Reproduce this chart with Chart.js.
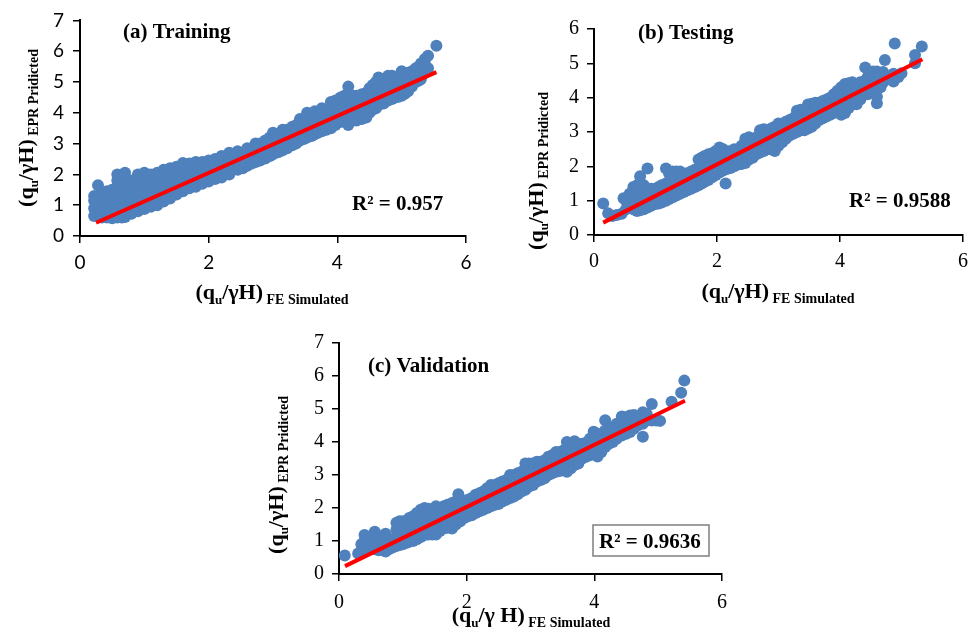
<!DOCTYPE html>
<html>
<head>
<meta charset="utf-8">
<script src="https://cdn.jsdelivr.net/npm/chart.js@4.4.1/dist/chart.umd.min.js"></script>
<style>
  html, body { margin: 0; padding: 0; background: #fff; }
  body { width: 978px; height: 632px; position: relative; overflow: hidden; }
  canvas { position: absolute; }
</style>
</head>
<body>
<canvas id="chartA" width="489" height="315" style="left:0;top:0"></canvas>
<canvas id="chartB" width="489" height="315" style="left:489px;top:0"></canvas>
<canvas id="chartC" width="520" height="317" style="left:230px;top:315px"></canvas>
<script>
// ---- data ([FE simulated, EPR predicted]) ----
const trainPts = [
  [0.22,0.65],[0.22,0.9],[0.22,1.15],[0.22,1.3],
  [0.28,0.75],[0.28,1.0],[0.28,1.25],[0.28,1.65],
  [0.34,0.6],[0.34,0.85],[0.34,1.1],[0.34,1.35],
  [0.42,0.6],[0.42,0.85],[0.42,1.1],[0.42,1.35],[0.42,1.45],
  [0.5,0.58],[0.5,0.85],[0.5,1.1],[0.5,1.35],[0.5,1.5],
  [0.58,0.6],[0.58,0.85],[0.58,1.1],[0.58,1.35],[0.58,1.6],[0.58,1.8],[0.58,2.0],
  [0.65,0.6],[0.65,0.85],[0.65,1.1],[0.65,1.35],[0.65,1.55],
  [0.7,0.62],[0.7,0.9],[0.7,1.15],[0.7,1.4],[0.7,1.7],[0.7,2.05],
  [0.8,0.72],[0.8,0.98],[0.8,1.25],[0.8,1.5],[0.8,1.8],
  [0.9,0.8],[0.9,1.05],[0.9,1.3],[0.9,1.55],[0.9,1.8],[0.9,2.0],
  [1.0,0.88],[1.0,1.15],[1.0,1.4],[1.0,1.65],[1.0,1.9],[1.0,2.05],
  [1.1,0.95],[1.1,1.2],[1.1,1.45],[1.1,1.7],[1.1,2.0],
  [1.2,1.0],[1.2,1.28],[1.2,1.55],[1.2,1.8],[1.2,2.05],
  [1.3,1.12],[1.3,1.38],[1.3,1.65],[1.3,1.9],[1.3,2.15],
  [1.4,1.22],[1.4,1.48],[1.4,1.75],[1.4,2.0],[1.4,2.2],
  [1.5,1.35],[1.5,1.6],[1.5,1.85],[1.5,2.05],[1.5,2.25],
  [1.6,1.45],[1.6,1.7],[1.6,1.95],[1.6,2.2],[1.6,2.37],
  [1.7,1.55],[1.7,1.8],[1.7,2.05],[1.7,2.35],
  [1.8,1.6],[1.8,1.85],[1.8,2.1],[1.8,2.4],
  [1.9,1.7],[1.9,1.95],[1.9,2.2],[1.9,2.4],
  [2.0,1.77],[2.0,2.0],[2.0,2.25],[2.0,2.45],
  [2.1,1.85],[2.1,2.1],[2.1,2.3],[2.1,2.5],
  [2.2,1.9],[2.2,2.15],[2.2,2.4],[2.2,2.6],
  [2.32,2.0],[2.32,2.25],[2.32,2.5],[2.32,2.7],
  [2.45,2.15],[2.45,2.4],[2.45,2.6],[2.45,2.75],
  [2.53,2.2],[2.53,2.45],[2.53,2.7],
  [2.6,2.28],[2.6,2.55],[2.6,2.85],
  [2.67,2.35],[2.67,2.6],[2.67,2.85],
  [2.73,2.4],[2.73,2.7],[2.73,3.0],
  [2.8,2.45],[2.8,2.75],[2.8,3.0],
  [2.88,2.52],[2.88,2.8],[2.88,3.1],
  [2.95,2.6],[2.95,2.9],[2.95,3.2],
  [3.0,2.65],[3.0,2.95],[3.0,3.35],
  [3.08,2.72],[3.08,3.0],[3.08,3.3],
  [3.15,2.78],[3.15,3.1],[3.15,3.45],
  [3.22,2.85],[3.22,3.15],[3.22,3.45],
  [3.3,2.95],[3.3,3.25],[3.3,3.55],
  [3.36,3.0],[3.36,3.3],[3.36,3.6],
  [3.42,3.1],[3.42,3.4],[3.42,3.8],
  [3.48,3.15],[3.48,3.45],[3.48,3.75],
  [3.53,3.2],[3.53,3.5],[3.53,3.8],[3.53,4.0],
  [3.6,3.25],[3.6,3.55],[3.6,3.85],
  [3.65,3.3],[3.65,3.6],[3.65,3.9],[3.65,4.05],
  [3.7,3.35],[3.7,3.65],[3.7,3.95],
  [3.76,3.4],[3.76,3.7],[3.76,4.0],[3.76,4.15],
  [3.83,3.45],[3.83,3.8],[3.83,4.1],
  [3.9,3.5],[3.9,3.8],[3.9,4.1],[3.9,4.35],
  [3.97,3.6],[3.97,3.9],[3.97,4.2],[3.97,4.4],
  [4.05,3.7],[4.05,4.0],[4.05,4.25],[4.05,4.5],
  [4.11,3.75],[4.11,4.05],[4.11,4.35],[4.11,4.55],
  [4.17,3.6],[4.17,3.85],[4.17,4.15],[4.17,4.4],[4.17,4.6],[4.17,4.85],
  [4.24,3.75],[4.24,4.0],[4.24,4.3],[4.24,4.55],
  [4.3,3.75],[4.3,4.05],[4.3,4.3],[4.3,4.55],
  [4.38,3.8],[4.38,4.1],[4.38,4.35],[4.38,4.6],
  [4.45,3.85],[4.45,4.15],[4.45,4.4],[4.45,4.65],
  [4.5,4.0],[4.5,4.3],[4.5,4.6],[4.5,4.8],
  [4.55,4.1],[4.55,4.4],[4.55,4.65],[4.55,4.9],
  [4.6,4.15],[4.6,4.45],[4.6,4.7],[4.6,5.0],
  [4.64,4.25],[4.64,4.5],[4.64,4.8],[4.64,5.15],
  [4.72,4.3],[4.72,4.6],[4.72,4.9],[4.72,5.1],
  [4.79,4.4],[4.79,4.7],[4.79,4.95],[4.79,5.2],
  [4.85,4.45],[4.85,4.75],[4.85,5.0],[4.85,5.2],
  [4.9,4.5],[4.9,4.8],[4.9,5.15],
  [4.95,4.52],[4.95,4.8],[4.95,5.1],
  [5.0,4.55],[5.0,4.85],[5.0,5.1],[5.0,5.35],
  [5.05,4.62],[5.05,4.9],[5.05,5.2],
  [5.1,4.7],[5.1,5.0],[5.1,5.3],
  [5.16,4.85],[5.16,5.1],[5.16,5.35],
  [5.22,5.0],[5.22,5.25],[5.22,5.45],
  [5.27,5.05],[5.27,5.3],[5.27,5.5],
  [5.3,5.1],[5.3,5.35],[5.3,5.6],
  [5.36,5.3],[5.36,5.6],[5.36,5.75],
  [5.41,5.45],[5.41,5.85],
  [5.54,6.18]
];
const trainFitX = [0.25, 5.54];
const trainFitY = [0.43, 5.32];

const testPts = [
  [0.15,0.92],[0.23,0.63],[0.3,0.55],[0.37,0.58],[0.45,0.62],[0.48,1.07],
  [0.52,0.75],[0.52,1.0],
  [0.58,0.8],[0.58,1.1],[0.58,1.2],
  [0.64,0.75],[0.64,1.0],[0.64,1.25],[0.64,1.4],
  [0.7,0.7],[0.7,0.95],[0.7,1.2],[0.7,1.45],
  [0.75,0.72],[0.75,1.0],[0.75,1.25],[0.75,1.5],[0.75,1.71],
  [0.81,0.75],[0.81,1.0],[0.81,1.25],[0.81,1.45],
  [0.87,0.8],[0.87,1.05],[0.87,1.3],[0.87,1.94],
  [0.93,0.85],[0.93,1.1],[0.93,1.35],
  [1.0,0.9],[1.0,1.15],[1.0,1.35],
  [1.05,0.92],[1.05,1.2],[1.05,1.4],
  [1.1,0.95],[1.1,1.2],[1.1,1.45],
  [1.17,1.0],[1.17,1.25],[1.17,1.5],[1.17,1.94],
  [1.22,1.05],[1.22,1.3],[1.22,1.55],[1.22,1.8],
  [1.28,1.1],[1.28,1.35],[1.28,1.6],[1.28,1.85],
  [1.34,1.15],[1.34,1.4],[1.34,1.65],[1.34,1.85],
  [1.4,1.2],[1.4,1.45],[1.4,1.7],[1.4,1.85],
  [1.46,1.25],[1.46,1.5],[1.46,1.75],
  [1.52,1.3],[1.52,1.55],[1.52,1.8],
  [1.58,1.35],[1.58,1.6],[1.58,1.85],
  [1.64,1.4],[1.64,1.65],[1.64,1.9],
  [1.7,1.45],[1.7,1.7],[1.7,1.95],[1.7,2.2],
  [1.75,1.5],[1.75,1.75],[1.75,2.0],[1.75,2.25],
  [1.8,1.55],[1.8,1.8],[1.8,2.05],[1.8,2.3],
  [1.86,1.6],[1.86,1.85],[1.86,2.1],[1.86,2.35],
  [1.92,1.68],[1.92,1.95],[1.92,2.2],[1.92,2.38],
  [1.98,1.75],[1.98,2.0],[1.98,2.25],[1.98,2.45],
  [2.04,1.82],[2.04,2.05],[2.04,2.3],[2.04,2.55],
  [2.1,1.88],[2.1,2.1],[2.1,2.35],[2.1,2.5],
  [2.14,1.5],
  [2.16,1.92],[2.16,2.15],[2.16,2.4],
  [2.22,1.95],[2.22,2.2],[2.22,2.45],
  [2.28,2.0],[2.28,2.25],[2.28,2.5],
  [2.34,2.05],[2.34,2.3],[2.34,2.5],
  [2.4,2.07],[2.4,2.35],[2.4,2.6],
  [2.46,2.1],[2.46,2.4],[2.46,2.7],[2.46,2.8],
  [2.52,2.2],[2.52,2.45],[2.52,2.7],[2.52,2.85],
  [2.58,2.25],[2.58,2.5],[2.58,2.75],
  [2.64,2.35],[2.64,2.6],[2.64,2.85],
  [2.7,2.4],[2.7,2.65],[2.7,2.9],[2.7,3.05],
  [2.76,2.45],[2.76,2.75],[2.76,3.0],[2.76,3.08],
  [2.82,2.5],[2.82,2.8],[2.82,3.05],
  [2.88,2.5],[2.88,2.8],[2.88,3.1],
  [2.94,2.45],[2.94,2.75],[2.94,3.0],[2.94,3.15],
  [3.0,2.6],[3.0,2.85],[3.0,3.1],[3.0,3.25],
  [3.06,2.7],[3.06,2.95],[3.06,3.2],
  [3.12,2.8],[3.12,3.05],[3.12,3.3],
  [3.18,2.9],[3.18,3.1],[3.18,3.35],
  [3.24,2.95],[3.24,3.2],[3.24,3.4],
  [3.3,3.0],[3.3,3.25],[3.3,3.5],[3.3,3.62],
  [3.36,3.05],[3.36,3.3],[3.36,3.55],[3.36,3.65],
  [3.42,3.05],[3.42,3.35],[3.42,3.6],
  [3.48,3.1],[3.48,3.4],[3.48,3.65],[3.48,3.8],
  [3.54,3.15],[3.54,3.45],[3.54,3.7],[3.54,3.82],
  [3.6,3.25],[3.6,3.5],[3.6,3.75],[3.6,3.85],
  [3.66,3.35],[3.66,3.6],[3.66,3.85],
  [3.72,3.4],[3.72,3.65],[3.72,3.9],
  [3.78,3.45],[3.78,3.7],[3.78,3.95],
  [3.84,3.5],[3.84,3.75],[3.84,4.0],
  [3.9,3.55],[3.9,3.85],[3.9,4.1],
  [3.96,3.6],[3.96,3.9],[3.96,4.2],
  [4.02,3.5],[4.02,3.8],[4.02,4.05],[4.02,4.3],
  [4.08,3.55],[4.08,3.85],[4.08,4.1],[4.08,4.4],
  [4.14,3.7],[4.14,4.0],[4.14,4.25],[4.14,4.42],
  [4.2,3.8],[4.2,4.05],[4.2,4.3],[4.2,4.45],
  [4.27,3.81],[4.27,4.1],[4.27,4.35],
  [4.33,3.95],[4.33,4.25],[4.33,4.45],
  [4.41,4.5],[4.41,4.88],
  [4.45,4.1],[4.45,4.35],[4.45,4.6],
  [4.52,4.3],[4.52,4.65],
  [4.54,4.76],
  [4.6,3.84],[4.6,4.03],[4.6,4.45],[4.6,4.76],
  [4.66,4.3],[4.66,4.6],
  [4.7,4.45],[4.7,4.75],
  [4.73,5.1],
  [4.8,4.55],
  [4.87,4.47],[4.87,4.7],
  [4.89,5.58],
  [4.95,4.6],
  [5.0,4.71],
  [5.22,5.0],[5.22,5.24],
  [5.33,5.49]
];
const testFitX = [0.15, 5.34];
const testFitY = [0.36, 5.12];

const validPts = [
  [0.09,0.56],
  [0.3,0.62],
  [0.35,0.7],[0.35,0.9],
  [0.4,0.75],[0.4,1.0],[0.4,1.18],
  [0.46,0.8],[0.46,1.05],
  [0.52,0.78],[0.52,1.05],
  [0.56,0.75],[0.56,1.0],[0.56,1.28],
  [0.62,0.72],[0.62,0.95],[0.62,1.15],
  [0.68,0.72],[0.68,0.95],
  [0.73,0.68],[0.73,0.95],[0.73,1.22],
  [0.78,0.75],[0.78,1.0],
  [0.84,0.8],[0.84,1.05],
  [0.9,0.85],[0.9,1.1],[0.9,1.35],[0.9,1.55],
  [0.95,0.88],[0.95,1.15],[0.95,1.4],[0.95,1.6],
  [1.0,0.9],[1.0,1.15],[1.0,1.4],[1.0,1.6],
  [1.06,0.95],[1.06,1.2],[1.06,1.45],[1.06,1.6],
  [1.1,0.98],[1.1,1.25],[1.1,1.5],[1.1,1.7],
  [1.16,1.0],[1.16,1.3],[1.16,1.55],[1.16,1.75],
  [1.22,1.05],[1.22,1.3],[1.22,1.55],[1.22,1.85],
  [1.28,1.12],[1.28,1.4],[1.28,1.65],[1.28,1.95],
  [1.34,1.18],[1.34,1.45],[1.34,1.7],[1.34,2.0],
  [1.4,1.2],[1.4,1.5],[1.4,1.75],[1.4,1.98],
  [1.46,1.2],[1.46,1.5],[1.46,1.75],[1.46,1.95],
  [1.52,1.2],[1.52,1.45],[1.52,1.7],[1.52,2.05],
  [1.58,1.3],[1.58,1.55],[1.58,1.8],[1.58,2.0],
  [1.64,1.38],[1.64,1.65],[1.64,1.9],[1.64,2.05],
  [1.7,1.4],[1.7,1.65],[1.7,1.9],[1.7,2.1],
  [1.77,1.38],[1.77,1.65],[1.77,1.9],[1.77,2.15],
  [1.83,1.5],[1.83,1.75],[1.83,2.0],[1.83,2.2],
  [1.87,2.42],
  [1.9,1.6],[1.9,1.85],[1.9,2.1],
  [1.96,1.7],[1.96,1.95],[1.96,2.2],
  [2.02,1.75],[2.02,2.0],[2.02,2.25],
  [2.08,1.78],[2.08,2.05],[2.08,2.3],
  [2.14,1.85],[2.14,2.1],[2.14,2.4],
  [2.2,1.9],[2.2,2.15],[2.2,2.45],
  [2.26,1.95],[2.26,2.2],[2.26,2.5],
  [2.32,2.0],[2.32,2.3],[2.32,2.6],
  [2.38,2.05],[2.38,2.35],[2.38,2.7],
  [2.44,2.1],[2.44,2.4],[2.44,2.7],
  [2.5,2.12],[2.5,2.45],[2.5,2.75],
  [2.56,2.2],[2.56,2.5],[2.56,2.8],
  [2.62,2.25],[2.62,2.55],[2.62,2.85],
  [2.68,2.3],[2.68,2.6],[2.68,3.0],
  [2.74,2.35],[2.74,2.65],[2.74,3.0],
  [2.8,2.42],[2.8,2.7],[2.8,3.05],
  [2.86,2.5],[2.86,2.8],[2.86,3.1],
  [2.92,2.55],[2.92,2.85],[2.92,3.2],[2.92,3.35],
  [2.98,2.65],[2.98,2.95],[2.98,3.35],
  [3.04,2.7],[3.04,3.0],[3.04,3.35],
  [3.1,2.8],[3.1,3.1],[3.1,3.4],
  [3.16,2.85],[3.16,3.15],[3.16,3.4],
  [3.22,2.9],[3.22,3.2],[3.22,3.45],
  [3.28,3.0],[3.28,3.3],[3.28,3.55],
  [3.34,3.05],[3.34,3.35],[3.34,3.6],
  [3.4,3.1],[3.4,3.4],[3.4,3.7],
  [3.46,3.12],[3.46,3.45],[3.46,3.7],
  [3.52,3.15],[3.52,3.45],[3.52,3.75],
  [3.57,3.1],[3.57,3.4],[3.57,3.7],[3.57,4.0],
  [3.63,3.2],[3.63,3.5],[3.63,3.8],
  [3.69,3.3],[3.69,3.6],[3.69,3.9],[3.69,4.02],
  [3.75,3.35],[3.75,3.65],[3.75,3.95],
  [3.81,3.5],[3.81,3.75],[3.81,3.95],
  [3.87,3.55],[3.87,3.8],[3.87,3.98],
  [3.93,3.6],[3.93,3.9],[3.93,4.1],
  [3.99,3.75],[3.99,4.0],[3.99,4.31],
  [4.05,3.56],[4.05,3.85],[4.05,4.1],[4.05,4.25],
  [4.11,3.7],[4.11,3.95],[4.11,4.2],
  [4.17,3.85],[4.17,4.1],[4.17,4.35],[4.17,4.66],
  [4.23,3.95],[4.23,4.2],[4.23,4.4],
  [4.29,4.0],[4.29,4.25],[4.29,4.45],
  [4.35,4.1],[4.35,4.35],[4.35,4.55],
  [4.43,4.2],[4.43,4.45],[4.43,4.77],
  [4.5,4.25],[4.5,4.5],[4.5,4.75],
  [4.56,4.3],[4.56,4.55],[4.56,4.8],
  [4.62,4.4],[4.62,4.65],[4.62,4.82],
  [4.68,4.5],[4.68,4.75],
  [4.76,4.16],[4.76,4.55],[4.76,4.9],
  [4.82,4.65],[4.82,4.85],
  [4.9,4.65],[4.9,5.15],
  [4.97,4.65],
  [5.03,4.64],
  [5.21,5.22],
  [5.36,5.49],
  [5.41,5.86]
];
const validFitX = [0.094, 5.42];
const validFitY = [0.24, 5.25];

const xTicks = [0, 2, 4, 6];

// ---- styling ----
const SERIF = '"Liberation Serif", "Times New Roman", serif';
const SANS = 'Lato, Carlito, Calibri, sans-serif';
const BLUE = '#4F81BD';
const RED = '#FF0000';

// draws a row of text pieces with different fonts (for q_u subscripts)
function drawParts(ctx, parts, x, y, rotate) {
  ctx.save();
  ctx.translate(x, y);
  if (rotate) ctx.rotate(-Math.PI / 2);
  ctx.fillStyle = '#000';
  ctx.textBaseline = 'alphabetic';
  ctx.textAlign = 'left';
  let total = 0;
  parts.forEach(p => { ctx.font = p[1]; total += ctx.measureText(p[0]).width; });
  let cx = -total / 2;
  parts.forEach(p => {
    ctx.font = p[1];
    ctx.fillText(p[0], cx, p[2]);
    cx += ctx.measureText(p[0]).width;
  });
  ctx.restore();
}

const textPlugin = {
  id: 'figText',
  afterDraw(chart) {
    const o = chart.options.plugins.figText;
    if (!o) return;
    const ctx = chart.ctx;
    const big = 'bold 22px ' + SERIF;
    const sub = 'bold 13px ' + SERIF;
    const small = 'bold 14px ' + SERIF;

    ctx.save();
    ctx.fillStyle = '#000';
    ctx.textAlign = 'left';
    ctx.textBaseline = 'alphabetic';
    ctx.font = 'bold 21px ' + SERIF;
    ctx.fillText(o.title, o.titleX, o.titleY);

    ctx.font = 'bold 21px ' + SERIF;
    if (o.box) {
      ctx.strokeStyle = '#7f7f7f';
      ctx.lineWidth = 1.5;
      ctx.strokeRect(o.box[0], o.box[1], o.box[2], o.box[3]);
    }
    ctx.fillText(o.r2, o.r2X, o.r2Y);
    ctx.restore();

    drawParts(ctx, [['(q', big, 0], ['u', sub, 5], [o.xMid + ')', big, 0], [' FE Simulated', small, 5]],
      o.xTitleX, o.xTitleY, false);
    drawParts(ctx, [['(q', big, 0], ['u', sub, 5], ['/\u03B3H)', big, 0], [' EPR Pridicted', small, 5]],
      o.yTitleX, o.yTitleY, true);
  }
};

function makeChart(id, pts, fitX, fitY, yMax, tickFont, area, text) {
  const canvas = document.getElementById(id);
  const W = canvas.width, H = canvas.height;
  const axisGrid = { drawOnChartArea: false, drawTicks: true, tickLength: 7, color: '#000', lineWidth: 1.5 };
  return new Chart(canvas.getContext('2d'), {
    type: 'scatter',
    data: {
      datasets: [
        {
          type: 'line',
          data: fitX.map((x, i) => ({ x: x, y: fitY[i] })),
          borderColor: RED,
          borderWidth: 4,
          pointRadius: 0,
          fill: false,
          order: 0
        },
        {
          data: pts.map(p => ({ x: p[0], y: p[1] })),
          backgroundColor: BLUE,
          borderWidth: 0,
          pointRadius: 6,
          order: 1
        }
      ]
    },
    options: {
      responsive: false,
      animation: false,
      devicePixelRatio: 1,
      layout: { padding: { left: 0, top: area.top, right: W - area.right, bottom: 0 } },
      plugins: { legend: { display: false }, tooltip: { enabled: false }, figText: text },
      scales: {
        x: {
          type: 'linear', min: 0, max: 6,
          afterFit: s => { s.height = H - area.bottom; },
          afterBuildTicks: s => { s.ticks = xTicks.map(v => ({ value: v })); },
          ticks: { color: '#000', font: tickFont, padding: area.xPad },
          grid: axisGrid,
          border: { color: '#000', width: 2 }
        },
        y: {
          type: 'linear', min: 0, max: yMax,
          afterFit: s => { s.width = area.left; },
          ticks: { stepSize: 1, color: '#000', font: tickFont, padding: area.yPad },
          grid: axisGrid,
          border: { color: '#000', width: 2 }
        }
      }
    },
    plugins: [textPlugin]
  });
}

makeChart('chartA', trainPts, trainFitX, trainFitY, 7,
  { family: SANS, size: 19 },
  { left: 80, top: 20, right: 466, bottom: 236, xPad: 8, yPad: 9 },
  { title: '(a) Training', titleX: 123, titleY: 38,
    r2: 'R\u00B2 = 0.957', r2X: 352, r2Y: 210,
    xMid: '/\u03B3H', xTitleX: 272, xTitleY: 299, yTitleX: 33, yTitleY: 128 });

makeChart('chartB', testPts, testFitX, testFitY, 6,
  { family: SERIF, size: 20 },
  { left: 105, top: 29, right: 474, bottom: 235, xPad: 8, yPad: 8 },
  { title: '(b) Testing', titleX: 149, titleY: 39,
    r2: 'R\u00B2 = 0.9588', r2X: 360, r2Y: 207,
    xMid: '/\u03B3H', xTitleX: 289, xTitleY: 298, yTitleX: 54, yTitleY: 171 });

makeChart('chartC', validPts, validFitX, validFitY, 7,
  { family: SERIF, size: 20 },
  { left: 109, top: 28, right: 492, bottom: 259, xPad: 10, yPad: 8 },
  { title: '(c) Validation', titleX: 138, titleY: 57,
    r2: 'R\u00B2 = 0.9636', r2X: 369, r2Y: 233, box: [363, 210, 116, 31],
    xMid: '/\u03B3 H', xTitleX: 301, xTitleY: 307, yTitleX: 53, yTitleY: 160 });
</script>
</body>
</html>
